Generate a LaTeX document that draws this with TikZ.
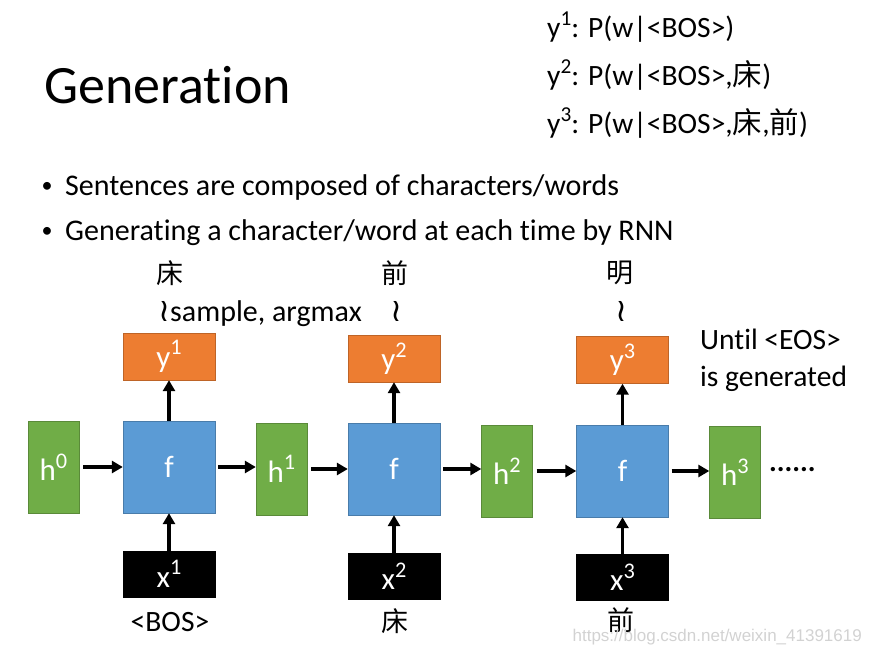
\documentclass[tikz,border=0pt]{standalone}
\usepackage{fontspec}
\setmainfont{Carlito}[Ligatures=NoCommon]
\newfontfamily\cjk{Noto Sans CJK SC}
\newfontfamily\symb{DejaVu Sans}
\newfontfamily\web{Liberation Sans}
\usetikzlibrary{arrows.meta}
\definecolor{pptorange}{HTML}{ED7D31}
\definecolor{pptblue}{HTML}{5B9BD5}
\definecolor{pptgreen}{HTML}{70AD47}
\newcommand\upidx[1]{\raisebox{.40em}{\scalebox{.72}{#1}}}
\begin{document}
\begin{tikzpicture}[x=1pt,y=-1pt]
\tikzset{link/.style = {-{Triangle[length=11pt,width=12pt]}, line width=3.4pt}}
\tikzset{cell/.style = {shape=rectangle, draw, thin, text=white, inner sep=0pt, font=\fontsize{31}{33}\selectfont}}
\tikzset{hnode/.style = {cell, fill=pptgreen, draw=pptgreen!80!black, minimum width=51pt, minimum height=92pt}}
\tikzset{fnode/.style = {cell, fill=pptblue, draw=pptblue!80!black, minimum width=92pt, minimum height=92pt}}
\tikzset{ynode/.style = {cell, fill=pptorange, draw=pptorange!80!black, minimum width=92pt, minimum height=47pt}}
\tikzset{xnode/.style = {cell, fill=black, minimum width=92pt, minimum height=46pt}}
\tikzset{txt/.style = {inner sep=0pt, font=\fontsize{29.5}{31}\selectfont}}
\tikzset{han/.style = {inner sep=0pt, font=\cjk\fontsize{27}{29}\selectfont}}
\useasboundingbox (0,0) rectangle (870,653);
\node[txt, anchor=base west, font=\fontsize{54}{60}\selectfont](title) at (44,103) {Generation};
\node[txt, anchor=base west](p1) at (547,37) {y\upidx{1}: P(w|<BOS>)};
\node[txt, anchor=base west](p2) at (547,85) {y\upidx{2}: P(w|<BOS>,{\cjk 床})};
\node[txt, anchor=base west](p3) at (547,133) {y\upidx{3}: P(w|<BOS>,{\cjk 床},{\cjk 前})};
\node[txt, font=\fontsize{22}{22}\selectfont](b1) at (47,187) {•};
\node[txt, anchor=base west, font=\fontsize{30}{32}\selectfont](t1) at (65,195) {Sentences are composed of characters/words};
\node[txt, font=\fontsize{22}{22}\selectfont](b2) at (47,232) {•};
\node[txt, anchor=base west, font=\fontsize{30}{32}\selectfont](t2) at (65,240) {Generating a character/word at each time by RNN};
\node[hnode](h0) at (53.5,467) {h\upidx{0}};
\node[fnode](f1) at (169,467) {f};
\node[hnode](h1) at (281.5,469) {h\upidx{1}};
\node[fnode](f2) at (394,469) {f};
\node[hnode](h2) at (507,471) {h\upidx{2}};
\node[fnode](f3) at (622.5,471) {f};
\node[hnode](h3) at (735,472) {h\upidx{3}};
\node[txt, anchor=west, font=\bfseries\fontsize{29}{30}\selectfont](dots) at (769,470) {......};
\node[ynode](y1) at (169,356.5) {y\upidx{1}};
\node[ynode](y2) at (394,358.5) {y\upidx{2}};
\node[ynode](y3) at (622.5,360) {y\upidx{3}};
\node[xnode](x1) at (169,574) {x\upidx{1}};
\node[xnode](x2) at (394,576.5) {x\upidx{2}};
\node[xnode](x3) at (622.5,577.5) {x\upidx{3}};
\node[han](c1) at (170,273) {床};
\node[han](c2) at (395,273) {前};
\node[han](c3) at (620,273) {明};
\node[txt, anchor=base west, font=\fontsize{30}{32}\selectfont](s1) at (158,321) {{\symb\fontsize{32}{32}\selectfont ≀}sample, argmax};
\node[txt, anchor=base](s2) at (396,321) {{\symb\fontsize{32}{32}\selectfont ≀}};
\node[txt, anchor=base](s3) at (621,321) {{\symb\fontsize{32}{32}\selectfont ≀}};
\node[txt, anchor=base west](u1) at (700,349) {Until <EOS>};
\node[txt, anchor=base west](u2) at (700,386) {is generated};
\node[txt, anchor=base](i1) at (170,631) {<BOS>};
\node[han](i2) at (395,621) {床};
\node[han](i3) at (621,620) {前};
\node[anchor=base east, inner sep=0pt, text=gray!35, font=\web\fontsize{17}{17}\selectfont](wm) at (862,641) {https://blog.csdn.net/weixin\_41391619};
\draw[link, shorten <=4pt] (h0) to (f1);
\draw[link, shorten <=3pt] (f1.east) to (f1.east -| h1.west);
\draw[link, shorten <=4pt] (h1.east |- f2) to (f2);
\draw[link, shorten <=3pt] (f2.east) to (f2.east -| h2.west);
\draw[link, shorten <=4pt] (h2) to (f3);
\draw[link, shorten <=3pt] (f3.east) to (f3.east -| h3.west);
\draw[link] (x1) to (f1);
\draw[link] (x2) to (f2);
\draw[link] (x3) to (f3);
\draw[link] (f1) to (y1);
\draw[link] (f2) to (y2);
\draw[link] (f3) to (y3);
\end{tikzpicture}
\end{document}
